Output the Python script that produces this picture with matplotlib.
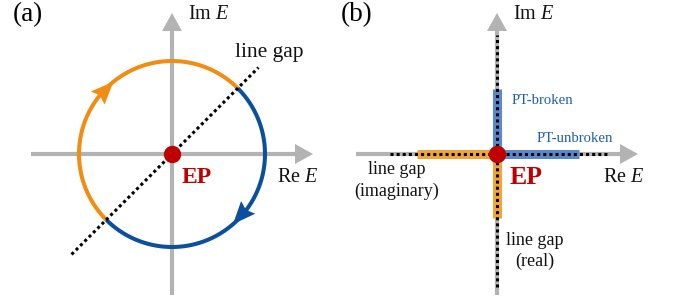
import numpy as np
import matplotlib
matplotlib.use("Agg")
import matplotlib.pyplot as plt
from matplotlib.patches import Polygon

plt.rcParams['font.family'] = ['Liberation Serif', 'DejaVu Serif']
plt.rcParams['mathtext.fontset'] = 'custom'
plt.rcParams['mathtext.rm'] = 'Liberation Serif'
plt.rcParams['mathtext.it'] = 'Liberation Serif:italic'

# ---- data (schematic, radius of circle = 1 unit) ----
axis_extent = 1.516            # half-length of complex-plane axes
orange_arc = (45, 225)         # degrees, orange half of the loop
blue_arc = (225, 405)          # degrees, blue half of the loop
arrow_tips = [129, -49]        # tip angle of loop arrowheads
arrow_bases = [143, -35]       # base angle of loop arrowheads
gap_line_a = (-1.08, 0.93)     # diagonal line gap extent (panel a)
# panel b bands: (start, end) along axes
pt_broken = (0.0, 0.70)        # Im axis, blue
pt_unbroken = (0.0, 0.88)      # Re axis, blue
imag_gap_band = (-0.86, 0.0)   # Re axis, orange
real_gap_band = (-0.69, 0.0)   # Im axis, orange
dotted_re = (-1.15, 1.18)
dotted_im = (-1.43, 1.28)

GRAY = '#b3b3b3'
ORANGE = '#f18d12'
BLUE = '#0b4f9e'
BAND_OR = '#f2a535'
BAND_BL = '#5a88cc'
RED = '#c00000'
TXT_BL = '#1f5fae'

W, H = 673, 303
PX = 93.0  # pixels per unit
fig = plt.figure(figsize=(W / 100, H / 100), dpi=100)

def make_ax(left_px, width_px, cx, cy):
    ax = fig.add_axes([left_px / W, 0, width_px / W, 1])
    ax.set_xlim((left_px - cx) / PX, (left_px + width_px - cx) / PX)
    ax.set_ylim((cy - H) / PX, cy / PX)
    ax.axis('off')
    return ax

def draw_axes(ax):
    hl, hw = 18 / PX, 10 / PX
    L = axis_extent
    ax.plot([-L, L - hl + 0.01], [0, 0], color=GRAY, lw=3.0, solid_capstyle='butt', zorder=1)
    ax.plot([0, 0], [-L, L - hl + 0.01], color=GRAY, lw=3.0, solid_capstyle='butt', zorder=1)
    ax.add_patch(Polygon([[L, 0], [L - hl, hw], [L - hl, -hw]], closed=True, color=GRAY, lw=0, zorder=1))
    ax.add_patch(Polygon([[0, L], [hw, L - hl], [-hw, L - hl]], closed=True, color=GRAY, lw=0, zorder=1))

def loop_head(ax, tip_deg, base_deg, color):
    t, b = np.deg2rad(tip_deg), np.deg2rad(base_deg)
    tip = np.array([np.cos(t), np.sin(t)])
    base = np.array([np.cos(b), np.sin(b)])
    d = tip - base
    n = np.array([-d[1], d[0]]) / np.linalg.norm(d)
    hw = 9.5 / PX
    notch = base + 0.15 * d
    ax.add_patch(Polygon([tip, base + n * hw, notch, base - n * hw], closed=True,
                         color=color, lw=0, zorder=4))

dot_style = dict(color='black', lw=2.2, linestyle=(0, (1, 1)), dash_capstyle='butt', zorder=5)
lab = dict(fontsize=14.5, color='#111111', va='center', ha='left')

# ---------------- panel (a) ----------------
axa = make_ax(0, 340, 172, 154)
draw_axes(axa)
for (a0, a1), c in [(orange_arc, ORANGE), (blue_arc, BLUE)]:
    th = np.deg2rad(np.linspace(a0, a1, 200))
    axa.plot(np.cos(th), np.sin(th), color=c, lw=2.9, solid_capstyle='butt', zorder=3)
for tip, base, c in zip(arrow_tips, arrow_bases, [ORANGE, BLUE]):
    loop_head(axa, tip, base, c)
axa.plot(gap_line_a, gap_line_a, **dot_style)
axa.plot([0], [0], 'o', color=RED, ms=12.5, mec='none', zorder=6)
axa.text(0.108, -0.25, 'EP', fontsize=17, fontweight='bold', color=RED, va='center', ha='left')
axa.text(0.172, 1.50, 'Im $E$', **lab)
axa.text(1.129, -0.25, 'Re $E$', **lab)
axa.text(0.677, 1.09, 'line gap', fontsize=15.5, color='#111111', va='center', ha='left')

# ---------------- panel (b) ----------------
axb = make_ax(340, 333, 497, 154)
draw_axes(axb)
band = dict(lw=6.5, solid_capstyle='butt', zorder=3)
axb.plot(imag_gap_band, [0, 0], color=BAND_OR, **band)
axb.plot([0, 0], real_gap_band, color=BAND_OR, **band)
axb.plot(pt_unbroken, [0, 0], color=BAND_BL, **band)
axb.plot([0, 0], pt_broken, color=BAND_BL, **band)
axb.plot(dotted_re, [0, 0], **dot_style)
axb.plot([0, 0], dotted_im, **dot_style)
axb.plot([0], [0], 'o', color=RED, ms=12.5, mec='none', zorder=6)
axb.text(0.14, -0.25, 'EP', fontsize=18.5, fontweight='bold', color=RED, va='center', ha='left')
axb.text(0.17, 1.50, 'Im $E$', **lab)
axb.text(1.14, -0.25, 'Re $E$', fontsize=14.5, color='#111111', va='center', ha='left')
axb.text(0.16, 0.58, 'PT-broken', fontsize=10.6, color=TXT_BL, va='center', ha='left')
axb.text(0.43, 0.17, 'PT-unbroken', fontsize=10.6, color=TXT_BL, va='center', ha='left')
axb.text(-1.075, -0.28, 'line gap\n(imaginary)', fontsize=13, color='#111111',
         va='center', ha='center', linespacing=1.35)
axb.text(0.41, -1.04, 'line gap\n(real)', fontsize=13, color='#111111',
         va='center', ha='center', linespacing=1.3)

fig.text(13 / W, 1 - 15 / H, '(a)', fontsize=19.5, va='center', ha='left')
fig.text(341 / W, 1 - 15 / H, '(b)', fontsize=19.5, va='center', ha='left')

fig.savefig('out.png', dpi=100)
